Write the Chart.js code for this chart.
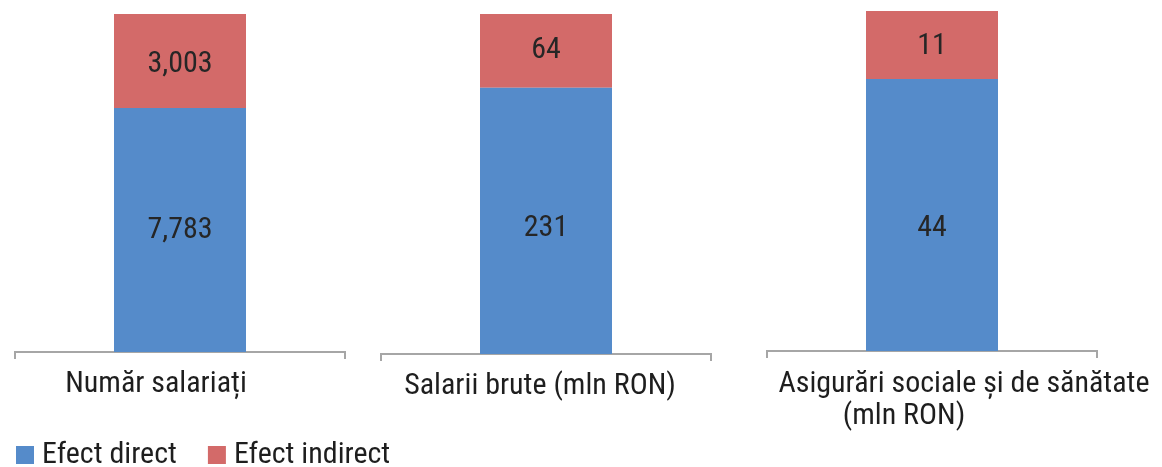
<!DOCTYPE html>
<html><head><meta charset="utf-8">
<script src="https://cdn.jsdelivr.net/npm/chart.js@4.4.1/dist/chart.umd.min.js"></script>
<style>
html,body{margin:0;padding:0;background:#fff;width:1162px;height:467px;overflow:hidden;position:relative}
canvas{position:absolute;top:0}
</style></head><body>
<canvas id="c1" width="470" height="480" style="left:-15px"></canvas>
<canvas id="c2" width="380" height="467" style="left:360px"></canvas>
<canvas id="c3" width="422" height="467" style="left:740px"></canvas>
<script>
const categories = [["Număr salariați"], ["Salarii brute (mln RON)"], ["Asigurări sociale și de sănătate", "(mln RON)"]];
const directValues = [7783, 231, 44];
const indirectValues = [3003, 64, 11];
const seriesNames = ["Efect direct", "Efect indirect"];

const FONT = '"Roboto Condensed", "DejaVu Sans Condensed", sans-serif';
const COLORS = ['#558BCA', '#D36A69'];
const AXIS = '#A6A6A6';
Chart.defaults.font.family = FONT;

const catLabelPlugin = {
  id: 'catLabels',
  afterDraw(chart, args, opts) {
    const ctx = chart.ctx, xs = chart.scales.x;
    const lines = chart.data.labels[0];
    ctx.save();
    ctx.font = opts.size + 'px ' + FONT;
    ctx.fillStyle = opts.color;
    ctx.textAlign = 'center';
    ctx.textBaseline = 'alphabetic';
    const cx = xs.getPixelForValue(0);
    lines.forEach((t, i) => {
      const p = opts.pos[i];
      ctx.fillText(t, cx + p[0], xs.top + p[1]);
    });
    ctx.restore();
  }
};

const valueLabelPlugin = {
  id: 'valueLabels',
  afterDatasetsDraw(chart, args, opts) {
    const ctx = chart.ctx;
    ctx.save();
    ctx.font = opts.size + 'px ' + FONT;
    ctx.fillStyle = opts.color;
    ctx.textAlign = 'center';
    ctx.textBaseline = 'middle';
    chart.data.datasets.forEach((ds, di) => {
      const meta = chart.getDatasetMeta(di);
      meta.data.forEach((el, j) => {
        const v = ds.data[j];
        ctx.fillText(v.toLocaleString('en-US'), el.x, (el.y + el.base) / 2 + opts.dy[di]);
      });
    });
    ctx.restore();
  }
};

function legendItems(chart) {
  const items = Chart.defaults.plugins.legend.labels.generateLabels(chart);
  items.forEach(it => { it.lineWidth = 14; it.strokeStyle = it.fillStyle; it.lineJoin = 'miter'; });
  return items;
}

function makeChart(i, id, geom) {
  const total = directValues[i] + indirectValues[i];
  return new Chart(document.getElementById(id), {
    type: 'bar',
    data: {
      labels: [categories[i]],
      datasets: [
        {label: seriesNames[0], data: [directValues[i]], backgroundColor: COLORS[0], borderWidth: 0},
        {label: seriesNames[1], data: [indirectValues[i]], backgroundColor: COLORS[1], borderWidth: 0}
      ]
    },
    options: {
      responsive: false,
      devicePixelRatio: 1,
      animation: false,
      categoryPercentage: 1,
      barPercentage: 0.4,
      layout: {padding: {top: geom.top, left: 0, right: 0, bottom: 0}},
      scales: {
        x: {
          stacked: true,
          position: 'bottom',
          afterFit: s => { s.height = geom.xh; },
          ticks: {display: false},
          grid: {offset: true, drawOnChartArea: false, drawTicks: true, tickLength: 7, color: AXIS, lineWidth: 2},
          border: {display: true, color: AXIS, width: 2}
        },
        y: {
          stacked: true, min: 0, max: total, position: 'left',
          afterFit: s => { s.width = geom.left; },
          ticks: {display: false}, grid: {display: false}, border: {display: false}
        },
        yR: {
          type: 'linear', position: 'right', min: 0, max: 1,
          afterFit: s => { s.width = geom.right; },
          ticks: {display: false}, grid: {display: false}, border: {display: false}
        }
      },
      plugins: {
        tooltip: {enabled: false},
        legend: {
          display: !!geom.legend,
          position: 'bottom',
          align: 'start',
          labels: {
            boxWidth: 4, boxHeight: 4, padding: 38,
            color: '#1E1E1E',
            font: {size: 30, family: FONT},
            generateLabels: legendItems
          }
        },
        catLabels: {size: 30, color: '#1E1E1E', pos: geom.pos},
        valueLabels: {size: 30, color: '#262626', dy: geom.vdy}
      }
    },
    plugins: [catLabelPlugin, valueLabelPlugin]
  });
}

makeChart(0, 'c1', {top: 14, xh: 50, left: 30, right: 110, legend: true, pos: [[-24, 40]], vdy: [0, 3]});
makeChart(1, 'c2', {top: 14, xh: 113, left: 21, right: 29, pos: [[-6, 40]], vdy: [8, 0]});
makeChart(2, 'c3', {top: 11, xh: 116, left: 27, right: 65, pos: [[32, 41], [-28, 73]], vdy: [13, 1]});
</script>
</body></html>
